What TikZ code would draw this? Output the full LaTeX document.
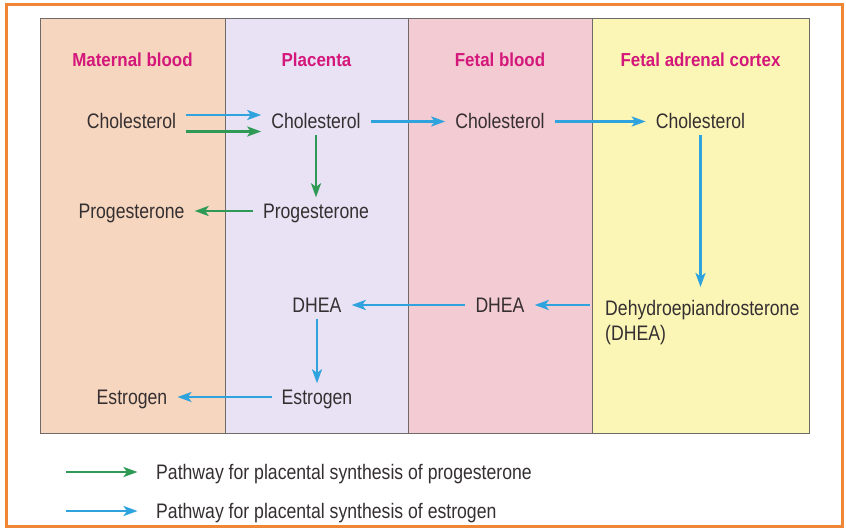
\documentclass[tikz,border=0pt]{standalone}
\usepackage{fontspec}
\setmainfont[FakeStretch=0.84]{Liberation Sans}
\newfontfamily\headfont[FakeStretch=0.9]{Liberation Sans}
\usetikzlibrary{arrows.meta}

\definecolor{matbg}{HTML}{F6D6BE}
\definecolor{plabg}{HTML}{E9E1F4}
\definecolor{fetbg}{HTML}{F3CBD3}
\definecolor{adrbg}{HTML}{FBF6B6}
\definecolor{headpink}{HTML}{D4177A}
\definecolor{txtgray}{HTML}{352F31}
\definecolor{arrblue}{HTML}{2EA3DD}
\definecolor{arrgreen}{HTML}{2E9A55}
\definecolor{framegray}{HTML}{6E6A6A}
\definecolor{frameorange}{HTML}{EE8636}

\tikzset{
    head/.style={font=\headfont\bfseries\fontsize{18.8}{22}\selectfont, text=headpink,
        text height=13.5pt, text depth=0pt, inner sep=0pt},
    sub/.style={font=\fontsize{21}{25}\selectfont, text=txtgray,
        text height=15pt, text depth=0pt, inner xsep=10pt, inner ysep=6pt},
    bluearr/.style={draw=arrblue, line width=2.5pt, -{Stealth[length=14pt,width=10pt,inset=3.5pt]}},
    greenarr/.style={draw=arrgreen, line width=2.5pt, -{Stealth[length=14pt,width=10pt,inset=3.5pt]}},
}

\begin{document}
\begin{tikzpicture}[x=1pt, y=-1pt]
        \useasboundingbox (0,0) rectangle (846,532);
        \fill[white] (0,0) rectangle (846,532);

        % the four compartments
        \draw[framegray, fill=matbg] (40,18) rectangle (225,433);
        \draw[framegray, fill=plabg] (225,18) rectangle (408,433);
        \draw[framegray, fill=fetbg] (408,18) rectangle (592,433);
        \draw[framegray, fill=adrbg] (592,18) rectangle (809,433);

        \node[head] (hmat) at (132.5,59.5) {Maternal blood};
        \node[head] (hpla) at (316.5,59.5) {Placenta};
        \node[head] (hfet) at (500,59.5) {Fetal blood};
        \node[head] (hadr) at (700.5,59.5) {Fetal adrenal cortex};

        \node[sub] (mchol) at (131.5,121.5) {Cholesterol};
        \node[sub] (pchol) at (316,121.5) {Cholesterol};
        \node[sub] (fchol) at (500,121.5) {Cholesterol};
        \node[sub] (achol) at (700.5,121.5) {Cholesterol};

        \node[sub] (mprog) at (131.5,211) {Progesterone};
        \node[sub] (pprog) at (316,211) {Progesterone};

        \node[sub] (pdhea) at (317,305) {DHEA};
        \node[sub] (fdhea) at (500,305) {DHEA};
        \node[font=\fontsize{21}{25}\selectfont, text=txtgray, align=left,
            inner xsep=10pt, inner ysep=6pt, anchor=north west] (adhea) at (595,294)
            {Dehydroepiandrosterone\\(DHEA)};

        \node[sub] (pestr) at (317,397) {Estrogen};
        \node[sub] (mestr) at (132,397) {Estrogen};

        \draw[bluearr] ([yshift=6.5pt]mchol.east) -- ([yshift=6.5pt]pchol.west);
        \draw[greenarr] ([yshift=-10pt]mchol.east) -- ([yshift=-10pt]pchol.west);
        \draw[bluearr] (pchol) -- (fchol);
        \draw[bluearr] (fchol) -- (achol);
        \draw[greenarr] (pchol) -- (pprog);
        \draw[greenarr] (pprog) -- (mprog);

        \draw[bluearr, shorten >=7pt] (achol) -- (achol |- adhea.north);
        \draw[bluearr, shorten <=5pt] (adhea.west |- fdhea) -- (fdhea);
        \draw[bluearr] (fdhea) -- (pdhea);
        \draw[bluearr] (pdhea) -- (pestr);
        \draw[bluearr] (pestr) -- (mestr);

        % key
        \node[sub, anchor=west, inner xsep=0pt] (lprog) at (156,472) {Pathway for placental synthesis of progesterone};
        \node[sub, anchor=west, inner xsep=0pt] (lestr) at (156,511) {Pathway for placental synthesis of estrogen};
        \coordinate (lg) at (66,472);
        \coordinate (lb) at (66,511);
        \draw[greenarr] (lg) -- ([xshift=-18.5pt]lprog.west);
        \draw[bluearr] (lb) -- ([xshift=-18.5pt]lestr.west);

        \draw[frameorange, line width=3pt] (6.5,5) rectangle (842,526.5);
    \end{tikzpicture}
\end{document}
